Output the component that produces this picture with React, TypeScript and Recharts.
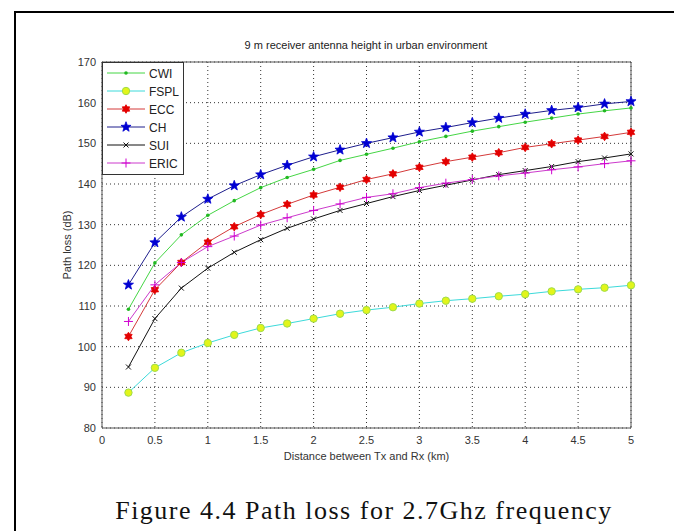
import { LineChart, Line, XAxis, YAxis, CartesianGrid, ReferenceLine } from 'recharts';

// distance (km) and path loss (dB) per model
const distance = [0.25, 0.5, 0.75, 1, 1.25, 1.5, 1.75, 2, 2.25, 2.5, 2.75, 3, 3.25, 3.5, 3.75, 4, 4.25, 4.5, 4.75, 5];
const cwi = [109.2, 120.6, 127.5, 132.3, 135.9, 139.1, 141.6, 143.6, 145.8, 147.3, 148.8, 150.4, 151.7, 153.0, 154.1, 155.2, 156.2, 157.2, 158.0, 158.7];
const fspl = [88.7, 94.8, 98.5, 100.9, 102.9, 104.6, 105.7, 106.9, 108.1, 109.0, 109.7, 110.6, 111.3, 111.8, 112.4, 112.9, 113.6, 114.1, 114.5, 115.1];
const ecc = [102.5, 114.0, 120.7, 125.7, 129.5, 132.5, 135.0, 137.3, 139.2, 141.1, 142.5, 144.1, 145.5, 146.6, 147.7, 149.0, 149.9, 150.8, 151.7, 152.7];
const ch = [115.2, 125.6, 131.9, 136.3, 139.6, 142.3, 144.6, 146.7, 148.4, 150.0, 151.4, 152.8, 153.9, 155.1, 156.2, 157.2, 158.1, 158.8, 159.7, 160.3];
const sui = [95.0, 106.9, 114.4, 119.3, 123.2, 126.3, 129.1, 131.4, 133.5, 135.2, 136.9, 138.4, 139.7, 141.0, 142.3, 143.3, 144.3, 145.5, 146.4, 147.4];
const eric = [106.2, 115.2, 120.7, 124.6, 127.2, 129.9, 131.7, 133.5, 135.1, 136.7, 137.6, 139.1, 140.2, 141.1, 142.0, 142.7, 143.5, 144.2, 145.0, 145.7];

const xTicks = [0, 0.5, 1, 1.5, 2, 2.5, 3, 3.5, 4, 4.5, 5];
const yTicks = [80, 90, 100, 110, 120, 130, 140, 150, 160, 170];

type MarkerKind = 'dot' | 'circle' | 'hexagram' | 'pentagram' | 'cross' | 'plus';

const series: { name: string; line: string; marker: MarkerKind; mark: string; edge: string }[] = [
  { name: 'CWI', line: '#45d645', marker: 'dot', mark: '#22b822', edge: '#22b822' },
  { name: 'FSPL', line: '#3cdada', marker: 'circle', mark: '#e2f51a', edge: '#9fdc4a' },
  { name: 'ECC', line: '#d43a3a', marker: 'hexagram', mark: '#e30000', edge: '#e30000' },
  { name: 'CH', line: '#1e1e8c', marker: 'pentagram', mark: '#0000d2', edge: '#0000d2' },
  { name: 'SUI', line: '#111111', marker: 'cross', mark: '#111111', edge: '#111111' },
  { name: 'ERIC', line: '#cc3acc', marker: 'plus', mark: '#d000d0', edge: '#d000d0' },
];

const values: Record<string, number[]> = { CWI: cwi, FSPL: fspl, ECC: ecc, CH: ch, SUI: sui, ERIC: eric };

const rows = distance.map((d, i) => {
  const r: Record<string, number> = { d };
  series.forEach((s) => (r[s.name] = values[s.name][i]));
  return r;
});

function star(cx: number, cy: number, n: number, outer: number, inner: number) {
  const pts: string[] = [];
  for (let i = 0; i < n * 2; i++) {
    const r = i % 2 === 0 ? outer : inner;
    const a = -Math.PI / 2 + (i * Math.PI) / n;
    pts.push(`${(cx + r * Math.cos(a)).toFixed(2)},${(cy + r * Math.sin(a)).toFixed(2)}`);
  }
  return 'M' + pts.join('L') + 'Z';
}

function Marker({ kind, x, y, mark, edge }: { kind: MarkerKind; x: number; y: number; mark: string; edge: string }) {
  switch (kind) {
    case 'dot':
      return <circle cx={x} cy={y} r={1.8} fill={mark} />;
    case 'circle':
      return <circle cx={x} cy={y} r={3.7} fill={mark} stroke={edge} strokeWidth={1} />;
    case 'hexagram':
      return <path d={star(x, y, 6, 4.3, 2.6)} fill={mark} stroke={edge} strokeWidth={0.8} />;
    case 'pentagram':
      return <path d={star(x, y, 5, 5.3, 2.2)} fill={mark} stroke={edge} strokeWidth={0.8} />;
    case 'cross':
      return <path d={`M${x - 2.5},${y - 2.5}L${x + 2.5},${y + 2.5}M${x - 2.5},${y + 2.5}L${x + 2.5},${y - 2.5}`} stroke={mark} strokeWidth={1} />;
    case 'plus':
      return <path d={`M${x - 4.5},${y}L${x + 4.5},${y}M${x},${y - 4.5}L${x},${y + 4.5}`} stroke={mark} strokeWidth={1} />;
  }
}

const tickStyle = { fontSize: 11, fontFamily: 'Liberation Sans', fill: '#333' };

export default function App() {
  return (
    <div style={{ position: 'absolute', left: 0, top: 0, width: 674, height: 531, overflow: 'hidden', background: '#fff' }}>
      <div style={{ position: 'absolute', left: 14, top: 11, width: 720, height: 600, borderLeft: '2px solid #000', borderTop: '2px solid #000' }} />
      <div style={{ position: 'absolute', left: 166, top: 39, width: 400, textAlign: 'center', fontFamily: 'Liberation Sans', fontSize: 11, color: '#222' }}>
        9 m receiver antenna height in urban environment
      </div>
      <div style={{ position: 'absolute', left: 0 }}>
        <LineChart width={674} height={531} data={rows} margin={{ top: 62, right: 43, left: 62, bottom: 69 }}>
          <CartesianGrid stroke="#333" strokeDasharray="1 3" />
          <XAxis
            dataKey="d"
            type="number"
            domain={[0, 5]}
            ticks={xTicks}
            height={34}
            tick={tickStyle}
            tickLine={false}
            stroke="#555"
            label={{ value: 'Distance between Tx and Rx (km)', position: 'insideBottom', offset: 2, style: tickStyle }}
          />
          <YAxis
            type="number"
            domain={[80, 170]}
            ticks={yTicks}
            width={40}
            tick={tickStyle}
            tickLine={false}
            tickMargin={0}
            stroke="#555"
            label={{ value: 'Path loss (dB)', angle: -90, position: 'insideLeft', offset: 5, style: { ...tickStyle, textAnchor: 'middle' } }}
          />
          <ReferenceLine x={5} stroke="#555" />
          <ReferenceLine y={170} stroke="#555" />
          {series.map((s) => (
            <Line
              key={s.name}
              dataKey={s.name}
              stroke={s.line}
              strokeWidth={1}
              isAnimationActive={false}
              activeDot={false}
              dot={(p: any) => <Marker key={`${s.name}-${p.index}`} kind={s.marker} x={p.cx} y={p.cy} mark={s.mark} edge={s.edge} />}
            />
          ))}
        </LineChart>
      </div>
      <svg style={{ position: 'absolute', left: 102, top: 62 }} width={82} height={113}>
        <rect x={0.5} y={0.5} width={81} height={112} fill="#fff" stroke="#333" />
        {series.map((s, i) => {
          const y = 11 + i * 18;
          return (
            <g key={s.name}>
              <line x1={5} x2={43} y1={y} y2={y} stroke={s.line} />
              <Marker kind={s.marker} x={24} y={y} mark={s.mark} edge={s.edge} />
              <text x={47} y={y + 4.5} fontFamily="Liberation Sans" fontSize={12} fill="#222">{s.name}</text>
            </g>
          );
        })}
      </svg>
      <div style={{ position: 'absolute', left: 64, top: 496, width: 600, textAlign: 'center', fontFamily: 'Liberation Serif', fontSize: 26, letterSpacing: 1.5, color: '#111', whiteSpace: 'nowrap' }}>
        Figure 4.4 Path loss for 2.7Ghz frequency
      </div>
    </div>
  );
}
